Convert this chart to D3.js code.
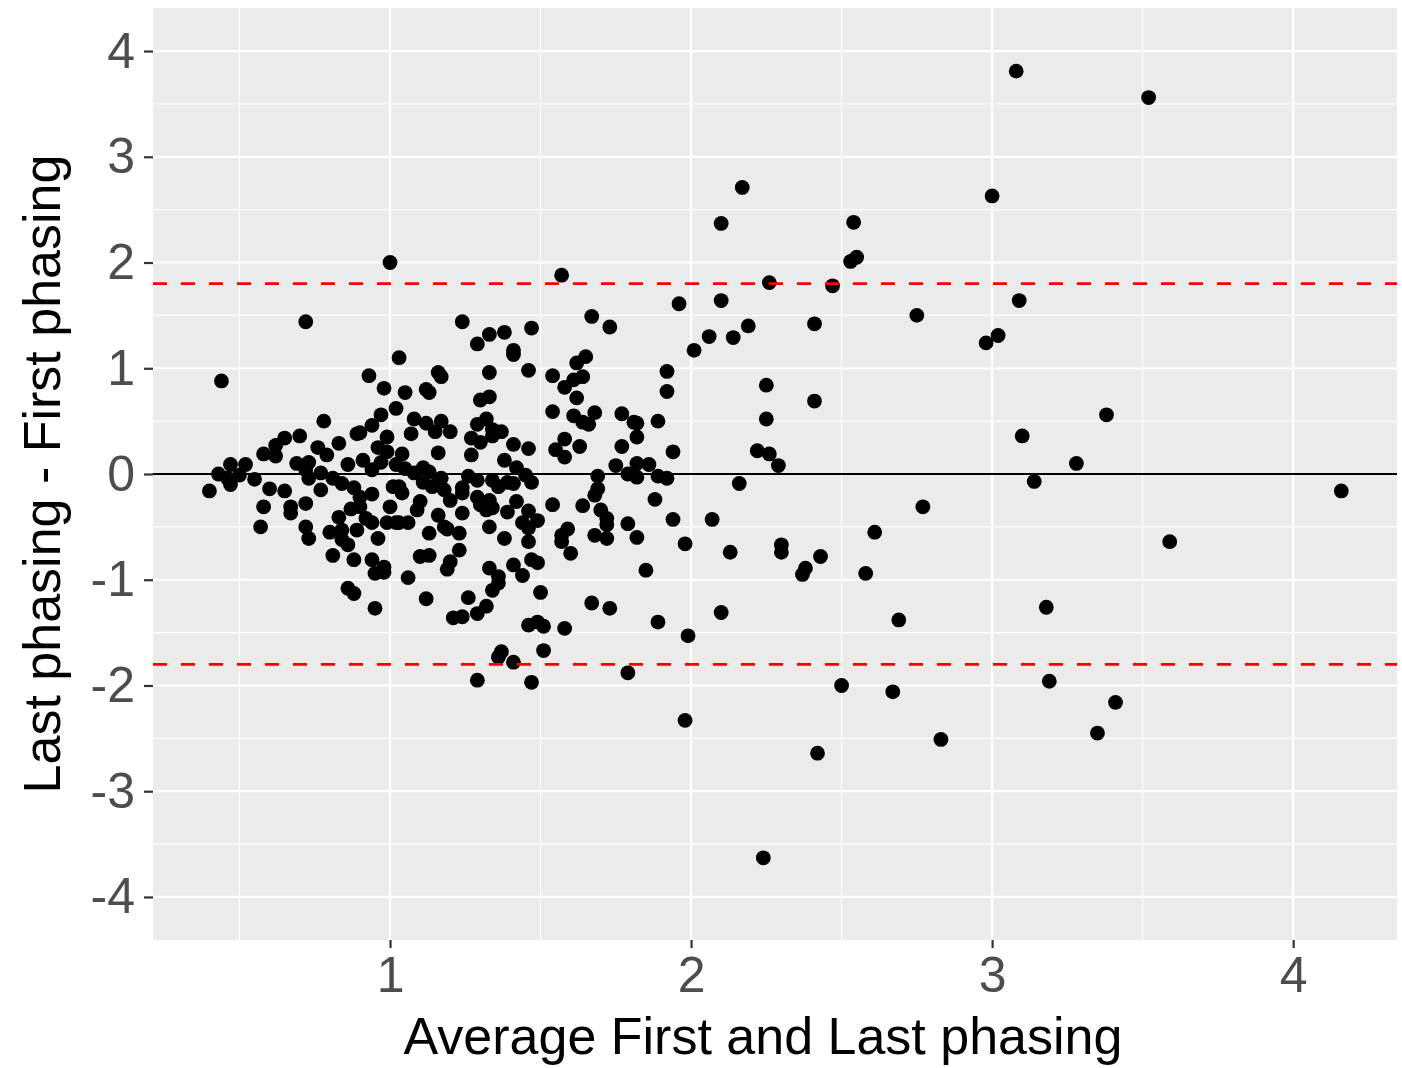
<!DOCTYPE html>
<html><head><meta charset="utf-8">
<script src="https://cdn.jsdelivr.net/npm/d3@7"></script>
<style>body{margin:0;background:#fff}svg{display:block}</style>
</head><body>
<svg id="c" width="1402" height="1068"></svg>
<script>
const xTicks = [1, 2, 3, 4];
const yTicks = [-4, -3, -2, -1, 0, 1, 2, 3, 4];
const xMinor = [0.5, 1.5, 2.5, 3.5];
const yMinor = [-3.5, -2.5, -1.5, -0.5, 0.5, 1.5, 2.5, 3.5];
const limitLines = [1.8, -1.8];
const meanLine = 0;
const xTitle = "Average First and Last phasing";
const yTitle = "Last phasing - First phasing";
// points: [average, difference]
const avgVals = [
0.40,0.43,0.44,0.47,0.47,0.46,0.50,0.52,0.55,0.58,0.62,0.65,0.62,0.69,0.60,0.65,0.58,0.57,0.67,0.67,0.70,0.72,
0.78,0.76,0.83,0.89,0.73,0.72,0.73,0.77,0.79,0.86,0.91,0.94,0.97,1.02,0.94,0.97,1.02,0.98,0.99,0.96,0.99,0.81,0.84,0.88,0.90,0.77,0.94,1.01,1.00,0.72,0.87,0.90,0.83,0.92,0.94,0.72,0.73,0.80,0.84,0.86,0.89,0.96,0.81,0.88,0.94,0.98,0.99,1.02,0.86,0.88,0.84,0.93,1.03,0.90,0.95,0.98,0.95,
1.05,1.12,1.13,1.16,1.17,1.08,1.07,1.12,1.17,1.15,1.20,1.04,1.16,1.08,1.11,1.05,1.13,1.17,1.11,1.16,1.03,1.14,1.18,1.20,1.24,1.29,1.33,1.24,1.04,1.10,1.09,1.16,1.24,1.30,1.32,1.03,1.06,1.18,1.19,1.13,1.23,1.33,1.23,1.10,1.13,1.20,1.19,1.33,1.36,1.36,1.34,1.12,1.26,1.32,1.29,1.21,1.24,1.06,1.24,1.29,1.33,1.38,1.41,1.41,1.33,1.30,1.33,1.29,1.32,1.34,1.37,1.27,1.30,1.34,1.27,1.26,1.29,1.34,1.34,
1.47,1.46,1.41,1.46,1.38,1.42,1.45,1.39,1.47,1.36,1.41,1.42,1.39,1.46,1.49,1.44,1.46,1.38,1.46,1.47,1.49,1.41,1.44,1.50,1.46,1.49,1.51,1.51,1.36,1.37,1.41,1.29,1.47,
1.57,1.96,1.67,1.73,2.01,1.65,1.62,1.54,1.64,1.61,1.58,1.62,1.92,1.92,1.54,1.61,1.68,1.64,1.66,1.77,1.81,1.82,1.89,1.82,1.55,1.58,1.58,1.63,1.77,1.94,1.75,1.82,1.86,1.79,1.82,1.89,1.92,1.69,1.69,1.54,1.64,1.68,1.70,1.72,1.72,1.68,1.72,1.79,1.82,1.88,1.94,1.98,1.59,1.57,1.57,1.60,1.85,1.67,1.73,1.89,1.58,1.99,1.79,
2.06,2.10,2.10,2.17,2.14,2.19,2.25,2.25,2.22,2.26,2.29,2.16,2.07,2.13,2.30,2.30,2.26,2.10,1.98,2.24,2.42,2.43,2.38,2.37,2.41,2.41,2.47,2.53,2.55,2.54,2.50,2.58,2.61,2.67,2.69,2.75,2.77,2.83,2.98,3.02,3.00,3.08,3.09,3.10,3.14,3.18,3.19,3.28,3.35,3.38,3.41,3.52,3.59,4.16,1.00
];
const diffVals = [
-0.16,0.00,0.88,0.09,-0.10,-0.04,-0.01,0.09,-0.05,0.19,0.27,0.34,0.17,0.10,-0.14,-0.16,-0.31,-0.50,-0.31,-0.37,0.36,1.44,
0.50,0.25,0.29,0.38,0.11,0.04,-0.04,0.01,0.18,0.09,0.13,0.04,0.11,0.09,0.46,0.56,0.62,0.81,0.35,0.25,0.21,-0.04,-0.09,-0.13,-0.22,-0.15,-0.19,-0.12,-0.31,-0.28,-0.33,-0.31,-0.41,-0.42,-0.46,-0.50,-0.61,-0.55,-0.53,-0.67,-0.53,-0.61,-0.77,-0.81,-0.81,-0.88,-0.46,-0.46,-1.08,-1.13,-0.62,0.93,1.10,0.39,-0.94,-0.93,-1.27,
0.77,0.80,0.77,0.96,0.92,0.52,0.38,0.48,0.50,0.40,0.40,0.19,0.20,0.01,0.06,0.05,0.02,-0.04,-0.08,-0.08,-0.12,-0.12,-0.15,-0.25,-0.18,-0.22,-0.25,-0.13,-0.18,-0.26,-0.34,-0.39,-0.37,-0.29,-0.34,-0.46,-0.46,-0.50,-0.52,-0.56,-0.56,-0.50,-0.72,-0.78,-0.77,-0.83,-0.90,-0.89,-0.97,-1.03,-1.10,-1.18,-1.17,-1.25,-1.32,-1.36,-1.35,-0.98,1.44,1.23,1.32,1.34,1.17,1.13,0.96,0.70,0.73,0.47,0.52,0.42,0.40,0.34,0.30,0.36,0.18,-0.02,-0.06,-0.06,-0.32,
1.38,0.98,0.28,0.24,0.13,0.06,-0.01,-0.08,-0.08,-0.12,-0.09,-0.26,-0.36,-0.35,-0.44,-0.46,-0.51,-0.61,-0.64,-0.81,-0.84,-0.86,-0.96,-1.12,-1.43,-1.40,-1.44,-1.67,-1.73,-1.68,-1.78,-1.95,-1.97,
1.88,1.61,1.49,1.39,1.17,1.11,1.05,0.93,0.92,0.89,0.82,0.72,0.97,0.78,0.59,0.55,0.58,0.49,0.47,0.57,0.49,0.48,0.50,0.35,0.23,0.33,0.16,0.26,0.26,0.21,0.08,0.10,0.09,0.00,-0.03,-0.02,-0.04,-0.02,-0.14,-0.29,-0.30,-0.20,-0.34,-0.42,-0.48,-0.58,-0.61,-0.47,-0.60,-0.24,-0.43,-0.66,-0.52,-0.58,-0.64,-0.75,-0.91,-1.22,-1.27,-1.40,-1.46,-1.53,-1.88,
1.30,1.64,2.37,2.71,1.29,1.40,0.84,0.52,0.22,0.19,0.08,-0.09,-0.43,-0.74,-0.67,-0.74,1.81,-1.31,-2.33,-3.63,-2.64,-0.78,-0.89,-0.95,0.69,1.42,1.78,2.01,2.05,2.38,-2.00,-0.94,-0.55,-2.06,-1.38,1.50,-0.31,-2.51,1.24,1.31,2.63,3.81,1.64,0.36,-0.07,-1.26,-1.96,0.10,-2.45,0.56,-2.16,3.56,-0.64,-0.16,2.00
];

const W = 1402, H = 1068;
const panel = {left: 153, right: 1397, top: 8, bottom: 940};
const svg = d3.select("#c");
const x = d3.scaleLinear().domain([0.2126, 4.345]).range([panel.left, panel.right]);
const y = d3.scaleLinear().domain([-4.407, 4.407]).range([panel.bottom, panel.top]);
const font = "'Liberation Sans', Arial, Helvetica, sans-serif";

svg.append("rect").attr("x", panel.left).attr("y", panel.top)
  .attr("width", panel.right - panel.left).attr("height", panel.bottom - panel.top)
  .attr("fill", "#EBEBEB");

const g = svg.append("g");
g.selectAll(".xmin").data(xMinor).join("line")
  .attr("x1", d => x(d)).attr("x2", d => x(d)).attr("y1", panel.top).attr("y2", panel.bottom)
  .attr("stroke", "#fff").attr("stroke-width", 1.1);
g.selectAll(".ymin").data(yMinor).join("line")
  .attr("y1", d => y(d)).attr("y2", d => y(d)).attr("x1", panel.left).attr("x2", panel.right)
  .attr("stroke", "#fff").attr("stroke-width", 1.1);
g.selectAll(".xmaj").data(xTicks).join("line")
  .attr("x1", d => x(d)).attr("x2", d => x(d)).attr("y1", panel.top).attr("y2", panel.bottom)
  .attr("stroke", "#fff").attr("stroke-width", 2.2);
g.selectAll(".ymaj").data(yTicks).join("line")
  .attr("y1", d => y(d)).attr("y2", d => y(d)).attr("x1", panel.left).attr("x2", panel.right)
  .attr("stroke", "#fff").attr("stroke-width", 2.2);

// points
const pts = avgVals.map((a, i) => [a, diffVals[i]]);
svg.append("g").selectAll("circle").data(pts).join("circle")
  .attr("cx", d => x(d[0])).attr("cy", d => y(d[1])).attr("r", 7.4).attr("fill", "#000");

// reference lines
svg.append("line").attr("x1", panel.left).attr("x2", panel.right)
  .attr("y1", y(meanLine)).attr("y2", y(meanLine)).attr("stroke", "#000").attr("stroke-width", 2.2);
svg.selectAll(".lim").data(limitLines).join("line")
  .attr("x1", panel.left).attr("x2", panel.right)
  .attr("y1", d => y(d)).attr("y2", d => y(d))
  .attr("stroke", "#FF0000").attr("stroke-width", 2.8).attr("stroke-dasharray", "14,14");

// axes
const xAxis = d3.axisBottom(x).tickValues(xTicks).tickSize(8).tickPadding(8).tickFormat(d3.format("d"));
const yAxis = d3.axisLeft(y).tickValues(yTicks).tickSize(9).tickPadding(9).tickFormat(d => String(d));
const xa = svg.append("g").attr("transform", `translate(0,${panel.bottom})`).call(xAxis);
const ya = svg.append("g").attr("transform", `translate(${panel.left},0)`).call(yAxis);
[xa, ya].forEach(a => {
  a.select(".domain").remove();
  a.selectAll(".tick line").attr("stroke", "#333").attr("stroke-width", 2.2);
  a.selectAll(".tick text").attr("fill", "#4D4D4D").style("font-family", font).style("font-size", "50px");
});

svg.append("text").attr("x", 763).attr("y", 1054)
  .attr("text-anchor", "middle").style("font-family", font).style("font-size", "52px").attr("fill", "#000")
  .text(xTitle);
svg.append("text").attr("transform", `translate(60,${(panel.top + panel.bottom) / 2}) rotate(-90)`)
  .attr("text-anchor", "middle").style("font-family", font).style("font-size", "52px").attr("fill", "#000")
  .text(yTitle);
</script>
</body></html>
